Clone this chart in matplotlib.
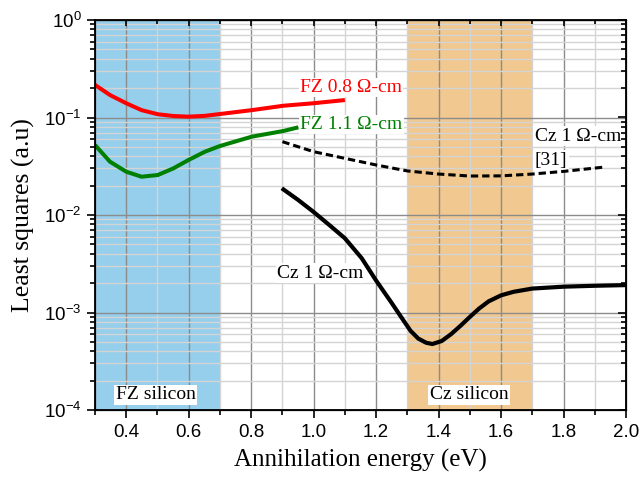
import numpy as np
import matplotlib
matplotlib.use("Agg")
import matplotlib.pyplot as plt
from matplotlib.ticker import LogLocator, MultipleLocator, NullFormatter

# Values
fz08_energy = [0.30, 0.348, 0.40, 0.449, 0.501, 0.551, 0.599, 0.652, 0.70, 0.802, 0.903, 0.999, 1.10]
fz08_lsq = [0.216, 0.170, 0.140, 0.119, 0.108, 0.1036, 0.102, 0.104, 0.1086, 0.119, 0.132, 0.140, 0.151]

fz11_energy = [0.30, 0.348, 0.40, 0.449, 0.501, 0.551, 0.599, 0.652, 0.70, 0.802, 0.903, 0.951]
fz11_lsq = [0.0522, 0.0352, 0.0278, 0.0247, 0.0257, 0.0301, 0.0366, 0.0446, 0.051, 0.0636, 0.0727, 0.0793]

cz_energy = [0.898, 0.95, 0.999, 1.05, 1.10, 1.154, 1.199, 1.25, 1.28, 1.31, 1.335, 1.36, 1.38,
             1.41, 1.44, 1.47, 1.50, 1.53, 1.56, 1.60, 1.64, 1.70, 1.80, 1.90, 2.0]
cz_lsq = [0.0188, 0.0143, 0.0108, 0.0079, 0.00577, 0.0036, 0.00215, 0.00125, 9.0e-4, 6.5e-4, 5.4e-4,
          4.9e-4, 4.75e-4, 5.1e-4, 6.0e-4, 7.3e-4, 9.0e-4, 1.1e-3, 1.3e-3, 1.5e-3, 1.63e-3, 1.76e-3,
          1.84e-3, 1.88e-3, 1.91e-3]

cz31_energy = [0.90, 1.0, 1.1, 1.2, 1.3, 1.4, 1.5, 1.6, 1.7, 1.8, 1.93]
cz31_lsq = [0.0565, 0.0446, 0.0381, 0.0326, 0.0283, 0.0263, 0.0251, 0.0252, 0.0263, 0.028, 0.031]

fz_band = (0.3, 0.7)
cz_band = (1.3, 1.7)
xlim = (0.3, 2.0)
ylim = (1e-4, 1)

plt.rcParams['mathtext.fontset'] = 'custom'
plt.rcParams['mathtext.rm'] = 'Liberation Sans'
plt.rcParams['mathtext.it'] = 'Liberation Sans'
plt.rcParams['font.family'] = 'Liberation Sans'


def set_log_y(a):
    a.set_yscale('log')
    a.set_ylim(*ylim)
    a.yaxis.set_major_locator(LogLocator(base=10, numticks=10))
    a.yaxis.set_minor_locator(LogLocator(base=10, subs=np.arange(2, 10), numticks=10))
    a.yaxis.set_minor_formatter(NullFormatter())


def set_x(a):
    a.set_xlim(*xlim)
    a.xaxis.set_major_locator(MultipleLocator(0.2))
    a.xaxis.set_minor_locator(MultipleLocator(0.1))


fig = plt.figure(figsize=(6.41, 4.83), dpi=100)
ax = fig.add_axes([95 / 641, 1 - 410 / 483, 531 / 641, 390 / 483])
ax.set_axisbelow(True)

ax.axvspan(*fz_band, color='#95cfec', zorder=0.1, lw=0)
ax.axvspan(*cz_band, color='#f0c890', zorder=0.1, lw=0)

ax.plot(fz08_energy, fz08_lsq, '-', color='#ff0000', lw=2.9, zorder=3, solid_capstyle='butt')
ax.plot(fz11_energy, fz11_lsq, '-', color='#008000', lw=2.9, zorder=3, solid_capstyle='butt')
ax.plot(cz31_energy, cz31_lsq, '--', color='black', lw=2.2, dashes=(2.4, 1.3), zorder=3)
ax.plot(cz_energy, cz_lsq, '-', color='black', lw=3.0, zorder=3, solid_capstyle='butt')

set_x(ax)
set_log_y(ax)

ax.grid(True, which='major', color='#8c8c8c', lw=1.0)
ax.grid(True, which='minor', color='#d4d4d4', lw=1.0)

for s in ax.spines.values():
    s.set_linewidth(1.3)
ax.tick_params(which='both', direction='out', width=1.2, labelsize=13.5, pad=4)
ax.tick_params(which='major', length=5.8)
ax.tick_params(which='minor', length=3.6)

# top and right ticks point inward
axt = ax.twiny()
set_x(axt)
axt.tick_params(which='both', direction='in', width=1.2, labeltop=False)
axt.tick_params(which='major', length=4.5)
axt.tick_params(which='minor', length=3.0)
axr = ax.twinx()
set_log_y(axr)
axr.tick_params(which='both', direction='in', width=1.2, labelright=False)
axr.tick_params(which='major', length=5.8)
axr.tick_params(which='minor', length=3.6)

ax.set_xlabel('Annihilation energy (eV)', family='Liberation Serif', fontsize=18, labelpad=6)
ax.set_ylabel('Least squares (a.u)', family='Liberation Serif', fontsize=18.5, labelpad=6)

box = dict(facecolor='white', edgecolor='none', pad=1.0)
tfont = dict(family='Liberation Serif', fontsize=14)
ax.text(0.956, 0.203, 'FZ 0.8 Ω-cm', color='#ff0000', va='center', bbox=box, zorder=2, **tfont)
ax.text(0.956, 0.0848, 'FZ 1.1 Ω-cm', color='#008000', va='center', bbox=box, zorder=2, **tfont)
ax.text(1.708, 0.0646, 'Cz 1 Ω-cm', color='black', va='center', bbox=box, zorder=2, **tfont)
ax.text(1.708, 0.0366, '[31]', color='black', va='center', bbox=box, zorder=2, **tfont)
ax.text(0.883, 0.00254, 'Cz 1 Ω-cm', color='black', va='center', bbox=box, zorder=2, **tfont)
ax.text(0.494, 1.43e-4, 'FZ silicon', color='black', ha='center', va='center', bbox=box, zorder=2, **tfont)
ax.text(1.497, 1.43e-4, 'Cz silicon', color='black', ha='center', va='center', bbox=box, zorder=2, **tfont)

fig.savefig('out.png', dpi=100)
